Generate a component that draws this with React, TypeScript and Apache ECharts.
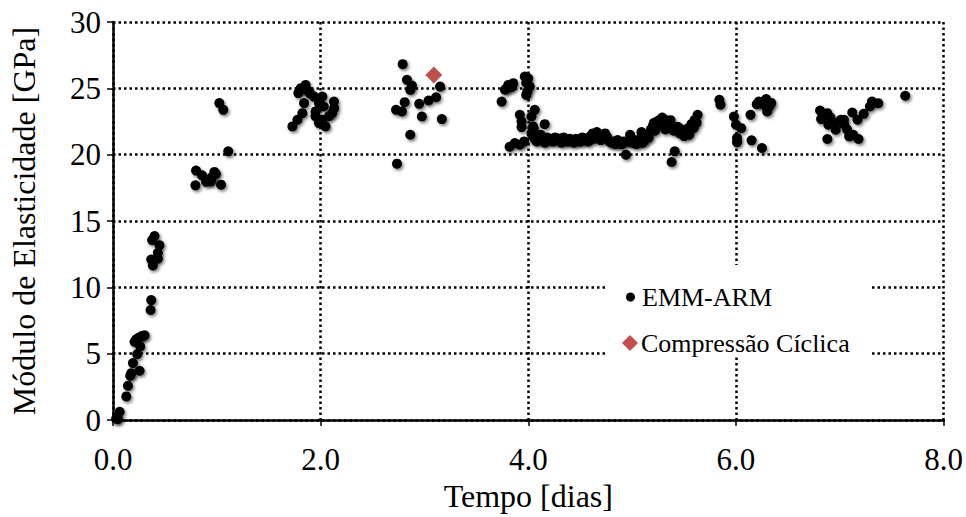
import React, { useEffect, useRef } from "react";
import * as echarts from "echarts";

// EMM-ARM measurements, grouped by testing period: [tempo (dias), módulo (GPa)]
const earlyAge: [number, number][] = [
  [0.03, 0.1], [0.048, 0.08], [0.064, 0.62], [0.128, 1.78], [0.144, 2.58],
  [0.166, 3.33], [0.176, 3.53], [0.256, 3.71], [0.192, 4.29], [0.233, 4.96],
  [0.262, 5.54], [0.208, 5.89], [0.224, 6.09], [0.25, 6.22], [0.281, 6.34],
  [0.304, 6.39], [0.362, 8.29], [0.368, 9.04], [0.384, 11.65], [0.368, 12.1],
  [0.432, 12.16], [0.432, 12.6], [0.448, 13.18], [0.377, 13.56], [0.4, 13.86],
];

const firstDay: [number, number][] = [
  [1.024, 23.89], [1.062, 23.38], [1.11, 20.25], [0.8, 18.8], [0.857, 18.44],
  [0.976, 18.7], [0.99, 18.55], [0.928, 18.12], [0.896, 17.95], [0.944, 17.99],
  [0.794, 17.69], [1.04, 17.74], [0.95, 18.3],
];

const secondDay: [number, number][] = [
  [1.855, 25.26], [1.807, 25.0], [1.888, 24.76], [1.785, 24.64], [1.936, 24.38],
  [2.016, 24.38], [2.128, 24.0], [1.84, 23.89], [1.984, 23.88], [2.03, 23.63],
  [1.824, 23.13], [1.95, 23.26], [2.11, 23.13], [2.13, 23.5], [1.776, 22.63],
  [1.95, 22.9], [2.016, 22.63], [2.08, 22.9], [1.728, 22.13], [2.047, 22.13],
  [1.984, 22.38], [1.9, 24.6], [1.855, 24.9],
];

const thirdDay: [number, number][] = [
  [2.79, 26.82], [2.831, 25.64], [2.879, 25.21], [2.863, 24.88], [3.15, 25.13],
  [2.809, 23.96], [2.949, 23.83], [3.039, 24.08], [3.112, 24.33], [2.726, 23.38],
  [2.783, 23.26], [2.975, 22.88], [3.167, 22.68], [2.863, 21.5], [2.735, 19.32],
];

const fourthDay: [number, number][] = [
  [3.743, 24.0], [3.775, 24.89], [3.807, 25.26], [3.855, 25.39], [3.84, 25.1],
  [3.79, 25.0], [3.966, 25.89], [3.999, 25.76], [3.98, 25.4], [4.014, 25.13],
  [3.99, 24.76], [3.98, 24.5], [4.062, 23.38], [4.03, 22.88], [3.918, 23.0],
  [3.935, 22.5], [3.935, 22.08], [4.046, 22.13], [4.158, 22.3], [3.87, 20.88],
  [3.918, 20.75], [3.96, 21.0], [3.82, 20.6], [4.03, 21.6], [4.06, 21.2],
  [4.05, 22.0],
];

const plateau: [number, number][] = [
  [4.06, 21.4], [4.08, 21.0], [4.1, 21.2], [4.12, 21.5], [4.14, 21.1],
  [4.16, 20.9], [4.18, 21.3], [4.2, 21.1], [4.22, 21.2], [4.24, 21.0],
  [4.26, 21.3], [4.28, 21.1], [4.3, 21.2], [4.32, 20.9], [4.34, 21.3],
  [4.36, 21.1], [4.38, 21.0], [4.4, 21.2], [4.42, 21.1], [4.44, 20.9],
  [4.46, 21.2], [4.48, 21.1], [4.5, 21.0], [4.52, 21.3], [4.54, 21.1],
  [4.56, 21.2], [4.58, 21.0], [4.6, 21.4], [4.62, 21.6], [4.64, 21.2],
  [4.66, 21.7], [4.68, 21.4], [4.7, 21.1], [4.72, 21.5], [4.74, 21.6],
  [4.76, 21.3], [4.78, 21.0], [4.8, 20.9], [4.82, 21.0], [4.84, 20.8],
  [4.86, 21.1], [4.88, 20.9], [4.9, 20.8], [4.92, 21.0], [4.94, 20.0],
  [4.96, 21.0], [4.98, 21.5], [5.0, 20.9], [5.02, 21.1], [5.04, 20.8],
  [5.06, 21.0], [5.08, 21.2], [5.09, 21.7], [5.1, 20.9], [5.12, 21.1],
  [5.14, 21.4], [5.16, 21.3], [5.18, 21.9], [5.2, 22.2], [5.21, 22.4],
  [5.22, 21.8], [5.24, 22.5], [5.26, 22.6], [5.28, 22.2], [5.29, 22.8],
  [5.3, 22.4], [5.32, 21.9], [5.33, 22.6], [5.35, 22.2], [5.37, 22.6],
  [5.38, 19.45], [5.41, 20.25], [5.4, 21.8], [5.42, 22.0], [5.44, 22.1],
  [5.46, 21.6], [5.48, 21.9], [5.5, 21.4], [5.52, 21.8], [5.54, 22.0],
  [5.55, 21.5], [5.57, 22.3], [5.59, 22.0], [5.6, 22.6], [5.62, 22.4],
  [5.63, 23.0],
];

const sixthDay: [number, number][] = [
  [5.84, 24.14], [5.85, 23.76], [5.98, 22.88], [6.0, 22.26], [6.05, 22.0],
  [6.14, 23.0], [6.01, 21.26], [6.01, 20.93], [6.15, 21.08], [6.25, 20.5],
  [6.22, 24.0], [6.29, 24.19], [6.26, 23.8], [6.32, 23.63], [6.3, 23.26],
  [6.2, 23.8], [6.34, 23.9],
];

const seventhDay: [number, number][] = [
  [6.81, 23.33], [6.82, 22.68], [6.88, 23.13], [6.91, 22.8], [6.89, 22.26],
  [6.96, 22.4], [6.96, 21.88], [7.01, 22.63], [7.04, 22.3], [7.07, 21.9],
  [6.88, 21.18], [7.04, 22.63], [7.12, 23.18], [7.17, 22.63], [7.09, 21.38],
  [7.13, 21.5], [7.18, 21.18], [7.23, 23.08], [7.29, 23.63], [7.31, 24.0],
  [7.37, 23.88], [7.63, 24.44],
];

// Cyclic compression test result
const cyclicCompression: [number, number][] = [[3.09, 26.0]];

const xTicks = { min: 0, max: 8, interval: 2 };
const yTicks = { min: 0, max: 30, interval: 5 };

const emmArm = [
  ...earlyAge, ...firstDay, ...secondDay, ...thirdDay,
  ...fourthDay, ...plateau, ...sixthDay, ...seventhDay,
];

const FONT = "Liberation Serif";

export default function App() {
  const ref = useRef<HTMLDivElement>(null);

  useEffect(() => {
    if (!ref.current) return;
    const chart = echarts.init(ref.current, undefined, { renderer: "svg" });

    const gridLine = {
      show: true,
      lineStyle: { color: "#000", width: 2.5, type: [2.5, 3] as number[] },
    };

    chart.setOption({
      animation: false,
      backgroundColor: "#fff",
      textStyle: { fontFamily: FONT, color: "#000" },
      grid: { left: 110, right: 21, top: 22, bottom: 96 },
      xAxis: {
        type: "value",
        ...xTicks,
        name: "Tempo [dias]",
        nameLocation: "middle",
        nameGap: 60,
        nameTextStyle: { fontFamily: FONT, fontSize: 32, color: "#000" },
        axisLine: { show: true, onZero: false, lineStyle: { color: "#000", width: 2.5 } },
        axisTick: { show: true, inside: false, length: 6, lineStyle: { color: "#000", width: 1.5 } },
        axisLabel: {
          fontFamily: FONT,
          fontSize: 31,
          color: "#000",
          margin: 24,
          formatter: (v: number) => v.toFixed(1),
        },
        splitLine: gridLine,
      },
      yAxis: {
        type: "value",
        ...yTicks,
        name: "Módulo de Elasticidade [GPa]",
        nameLocation: "middle",
        nameRotate: 90,
        nameGap: 73,
        nameTextStyle: { fontFamily: FONT, fontSize: 32, color: "#000" },
        axisLine: { show: true, lineStyle: { color: "#000", width: 2.5 } },
        axisTick: { show: true, inside: false, length: 6, lineStyle: { color: "#000", width: 1.5 } },
        axisLabel: { fontFamily: FONT, fontSize: 31, color: "#000", margin: 12 },
        splitLine: gridLine,
      },
      legend: [
        {
          data: [{ name: "EMM-ARM", icon: "circle" }],
          left: 621,
          top: 279,
          itemWidth: 9,
          itemHeight: 9,
          itemGap: 8,
          z: 5,
          textStyle: { fontFamily: FONT, fontSize: 26, color: "#000", padding: [0, 0, 0, 2] },
        },
        {
          data: [{ name: "Compressão Cíclica", icon: "diamond" }],
          left: 617,
          top: 325,
          itemWidth: 16,
          itemHeight: 16,
          itemGap: 4,
          z: 5,
          textStyle: { fontFamily: FONT, fontSize: 26, color: "#000", padding: [0, 0, 0, -2] },
        },
      ],
      graphic: [
        {
          type: "rect",
          z: 3,
          shape: { x: 606, y: 265, width: 264, height: 92 },
          style: { fill: "#fff" },
        },
      ],
      series: [
        {
          name: "EMM-ARM",
          type: "scatter",
          symbol: "circle",
          symbolSize: 10,
          data: emmArm,
          z: 2,
          itemStyle: {
            color: "#000",
            opacity: 1,
            shadowBlur: 3,
            shadowColor: "rgba(0,0,0,0.5)",
            shadowOffsetX: 1.5,
            shadowOffsetY: 2,
          },
        },
        {
          name: "Compressão Cíclica",
          type: "scatter",
          symbol: "diamond",
          symbolSize: 17,
          data: cyclicCompression,
          z: 3,
          itemStyle: { color: "#C0504D", opacity: 1 },
        },
      ],
    });

    return () => chart.dispose();
  }, []);

  return (
    <div
      ref={ref}
      style={{ position: "fixed", left: 0, top: 0, width: 966, height: 517, background: "#fff" }}
    />
  );
}
